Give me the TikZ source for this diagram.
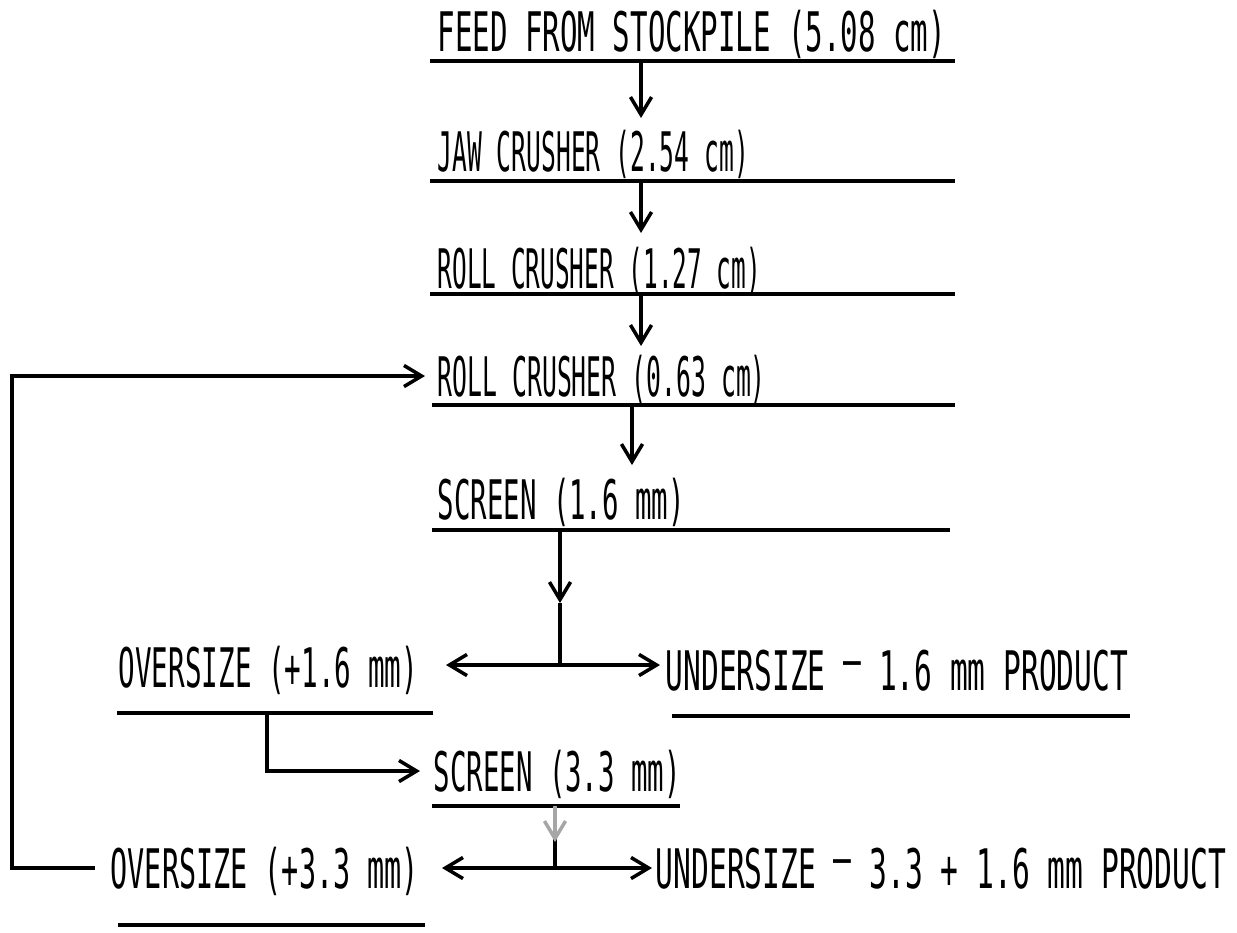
\documentclass[tikz,border=0pt]{standalone}
\usepackage{fontspec}
\newfontfamily\plotfont{DejaVu Sans Mono}[FakeStretch=0.56]
\usetikzlibrary{arrows.meta}
\newcommand{\rdash}{\raisebox{0.4ex}{–}}
\newcommand{\fitw}[2]{\resizebox{#1}{\height}{#2}}
\begin{document}
\begin{tikzpicture}[x=0.01cm,y=-0.01cm,
  lbl/.style={anchor=base west,inner sep=0pt,font=\plotfont\fontsize{15.5}{18}\selectfont},
  rule/.style={line width=1pt},
  wire/.style={line width=1pt},
  arr/.style={line width=1pt,-{Straight Barb[length=5pt,width=6pt,line width=1pt]}}]
\useasboundingbox (0,0) rectangle (1237,932);

% labels
\node[lbl] (feed)   at (437,51)  {\fitw{5.08cm}{FEED FROM STOCKPILE (5.08 cm)}};
\node[lbl] (jaw)    at (437,171) {\fitw{3.11cm}{JAW CRUSHER (2.54 cm)}};
\node[lbl] (roll1)  at (437,288) {\fitw{3.23cm}{ROLL CRUSHER (1.27 cm)}};
\node[lbl] (roll2)  at (437,396) {\fitw{3.28cm}{ROLL CRUSHER (0.63 cm)}};
\node[lbl] (scr1)   at (437,519) {\fitw{2.47cm}{SCREEN (1.6 mm)}};
\node[lbl] (over1)  at (118,687) {\fitw{2.99cm}{OVERSIZE (+1.6 mm)}};
\node[lbl] (under1) at (665,690) {\fitw{4.62cm}{UNDERSIZE \rdash{} 1.6 mm PRODUCT}};
\node[lbl] (scr2)   at (433,791) {\fitw{2.47cm}{SCREEN (3.3 mm)}};
\node[lbl] (over2)  at (110,888) {\fitw{3.08cm}{OVERSIZE (+3.3 mm)}};
\node[lbl] (under2) at (655,888) {\fitw{5.70cm}{UNDERSIZE \rdash{} 3.3 + 1.6 mm PRODUCT}};

% underlines
\draw[rule] (430,61)  -- (955,61);
\draw[rule] (430,181) -- (955,181);
\draw[rule] (430,294) -- (955,294);
\draw[rule] (432,405) -- (955,405);
\draw[rule] (432,530) -- (950,530);
\draw[rule] (117,713) -- (433,713);
\draw[rule] (672,716) -- (1130,716);
\draw[rule] (432,806) -- (680,806);
\draw[rule] (118,925) -- (425,925);

% connector points
\coordinate (a1s) at (641,61);  \coordinate (a1e) at (641,118);
\coordinate (a2s) at (641,181); \coordinate (a2e) at (641,233);
\coordinate (a3s) at (641,294); \coordinate (a3e) at (641,346);
\coordinate (a4s) at (632,405); \coordinate (a4e) at (632,465);
\coordinate (s1top) at (560,530); \coordinate (s1mid) at (560,603); \coordinate (s1j) at (560,665);
\coordinate (s1L) at (446,665); \coordinate (s1R) at (660,665);
\coordinate (o1s) at (267,713); \coordinate (o1c) at (267,771); \coordinate (o1e) at (420,771);
\coordinate (s2top) at (555,806); \coordinate (s2mid) at (555,842); \coordinate (s2j) at (555,868);
\coordinate (s2L) at (442,868); \coordinate (s2R) at (652,868);
\coordinate (rs) at (95,868); \coordinate (rc1) at (12,868); \coordinate (rc2) at (12,376); \coordinate (re) at (425,376);

% main chain
\draw[arr] (a1s) -- (a1e);
\draw[arr] (a2s) -- (a2e);
\draw[arr] (a3s) -- (a3e);
\draw[arr] (a4s) -- (a4e);

% first screen
\draw[arr] (s1top) -- (s1mid);
\draw[wire] (s1mid) -- (s1j);
\draw[arr] (s1j) -- (s1L);
\draw[arr] (s1j) -- (s1R);

% oversize 1.6 to second screen
\draw[arr] (o1s) -- (o1c) -- (o1e);

% second screen
\draw[wire] (s2top) -- (s2j);
\draw[arr,black!35] (s2top) -- (s2mid);
\draw[arr] (s2j) -- (s2L);
\draw[arr] (s2j) -- (s2R);

% recycle loop
\draw[arr] (rs) -- (rc1) -- (rc2) -- (re);
\end{tikzpicture}
\end{document}
